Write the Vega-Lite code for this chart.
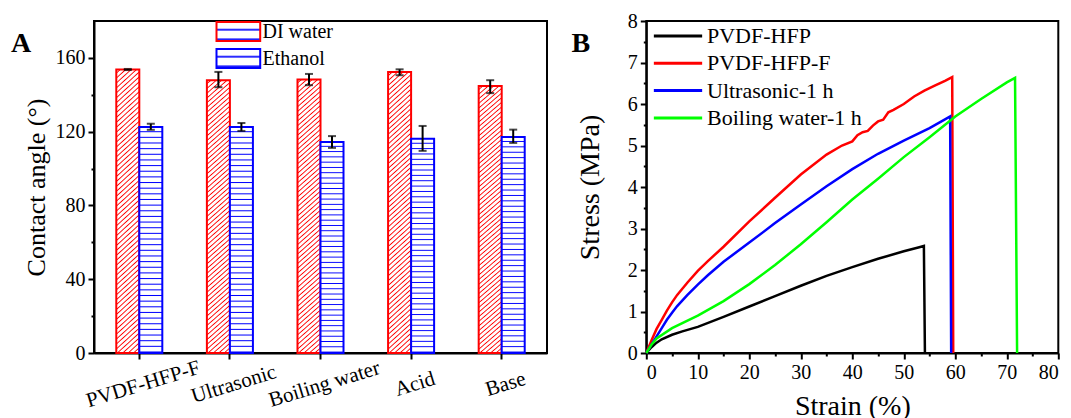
{
  "$schema": "https://vega.github.io/schema/vega-lite/v6.json",
  "padding": {"left": 10, "top": 10, "right": 2, "bottom": 0},
  "background": "white",
  "spacing": 22.3,
  "resolve": {"legend": {"color": "independent", "stroke": "independent"}},
  "config": {
    "font": "Liberation Serif",
    "view": {"stroke": "black", "strokeWidth": 2},
    "axis": {"domainColor": "black", "domainWidth": 2, "tickColor": "black", "tickWidth": 2, "labelColor": "black", "titleColor": "black", "labelFont": "Liberation Serif", "titleFont": "Liberation Serif", "labelFontSize": 20, "titleFontSize": 28, "titleFontWeight": "normal", "grid": false, "labelOverlap": false, "labelBound": false},
    "legend": {"labelFont": "Liberation Serif", "labelColor": "black"},
    "title": {"font": "Liberation Serif", "color": "black"}
  },
  "hconcat": [
    {
      "width": 453,
      "height": 332,
      "title": {"text": "A", "orient": "top", "anchor": "start", "frame": "bounds", "offset": 0, "dx": -12, "dy": 59, "baseline": "alphabetic", "fontSize": 28, "fontWeight": "bold"},
      "data": {"values": [
        {"sample": "PVDF-HFP-F", "solvent": "DI water", "angle": 153.7, "lo": 153.4, "hi": 154.0},
        {"sample": "PVDF-HFP-F", "solvent": "Ethanol", "angle": 122.5, "lo": 121.0, "hi": 124.3},
        {"sample": "Ultrasonic", "solvent": "DI water", "angle": 147.9, "lo": 144.1, "hi": 152.4},
        {"sample": "Ultrasonic", "solvent": "Ethanol", "angle": 122.5, "lo": 120.4, "hi": 124.7},
        {"sample": "Boiling water", "solvent": "DI water", "angle": 148.3, "lo": 145.2, "hi": 151.3},
        {"sample": "Boiling water", "solvent": "Ethanol", "angle": 114.4, "lo": 111.2, "hi": 117.6},
        {"sample": "Acid", "solvent": "DI water", "angle": 152.3, "lo": 150.6, "hi": 153.8},
        {"sample": "Acid", "solvent": "Ethanol", "angle": 116.1, "lo": 109.6, "hi": 123.1},
        {"sample": "Base", "solvent": "DI water", "angle": 144.7, "lo": 140.9, "hi": 147.9},
        {"sample": "Base", "solvent": "Ethanol", "angle": 117.1, "lo": 113.9, "hi": 121.1}
      ]},
      "encoding": {
        "x": {"field": "sample", "type": "nominal", "sort": null, "scale": {"paddingInner": 0.492, "paddingOuter": 0.246}, "axis": {"title": null, "labelAngle": -17, "labelAlign": "center", "labelBaseline": "middle", "labelPadding": 25, "labelOffset": 4, "labelFontSize": 21, "tickSize": 6}},
        "xOffset": {"field": "solvent", "type": "nominal", "sort": ["DI water", "Ethanol"], "scale": {"paddingInner": 0, "paddingOuter": 0}}
      },
      "layer": [
        {
          "mark": {"type": "bar", "strokeWidth": 2},
          "encoding": {
            "y": {"field": "angle", "type": "quantitative", "title": "Contact angle (°)", "scale": {"domain": [0, 180], "nice": false}, "axis": {"values": [0, 20, 40, 60, 80, 100, 120, 140, 160], "labelExpr": "datum.value % 40 === 0 ? datum.label : ''", "tickSize": {"condition": {"test": "datum.value % 40 === 0", "value": 6}, "value": 3}, "titleFontSize": 26, "titlePadding": 6, "labelPadding": 3}},
            "stroke": {"field": "solvent", "type": "nominal", "scale": {"domain": ["DI water", "Ethanol"], "range": ["#ff0000", "#0000ff"]}, "legend": {"title": null, "orient": "none", "legendX": 133.85, "legendY": 0, "padding": 0, "symbolType": "M-2.3,-1H2.3V1H-2.3Z", "symbolSize": 361, "symbolStrokeWidth": 2, "labelFontSize": 20, "labelFont": "Liberation Serif", "labelOffset": 13.65, "rowPadding": 0,
              "encode": {"symbols": {"fill": {"condition": {"test": "datum.value === 'DI water' || datum.solvent === 'DI water'", "value": {"gradient": "linear", "x1": 0, "y1": 0, "x2": 1.2, "y2": 0.52, "stops": [
                {"offset": 0, "color": "#fff"}, {"offset": 0.035, "color": "#fff"}, {"offset": 0.0525, "color": "#f00"},
                {"offset": 0.07, "color": "#fff"}, {"offset": 0.105, "color": "#fff"}, {"offset": 0.1225, "color": "#f00"},
                {"offset": 0.14, "color": "#fff"}, {"offset": 0.175, "color": "#fff"}, {"offset": 0.1925, "color": "#f00"},
                {"offset": 0.21, "color": "#fff"}, {"offset": 0.245, "color": "#fff"}, {"offset": 0.2625, "color": "#f00"},
                {"offset": 0.28, "color": "#fff"}, {"offset": 0.315, "color": "#fff"}, {"offset": 0.3325, "color": "#f00"},
                {"offset": 0.35, "color": "#fff"}, {"offset": 0.385, "color": "#fff"}, {"offset": 0.4025, "color": "#f00"},
                {"offset": 0.42, "color": "#fff"}, {"offset": 0.455, "color": "#fff"}, {"offset": 0.4725, "color": "#f00"},
                {"offset": 0.49, "color": "#fff"}, {"offset": 0.525, "color": "#fff"}, {"offset": 0.5425, "color": "#f00"},
                {"offset": 0.56, "color": "#fff"}, {"offset": 0.595, "color": "#fff"}, {"offset": 0.6125, "color": "#f00"},
                {"offset": 0.63, "color": "#fff"}, {"offset": 0.665, "color": "#fff"}, {"offset": 0.6825, "color": "#f00"},
                {"offset": 0.7, "color": "#fff"}, {"offset": 0.735, "color": "#fff"}, {"offset": 0.7525, "color": "#f00"},
                {"offset": 0.77, "color": "#fff"}, {"offset": 0.805, "color": "#fff"}, {"offset": 0.8225, "color": "#f00"},
                {"offset": 0.84, "color": "#fff"}, {"offset": 0.875, "color": "#fff"}, {"offset": 0.8925, "color": "#f00"},
                {"offset": 0.91, "color": "#fff"}, {"offset": 0.945, "color": "#fff"}, {"offset": 0.9625, "color": "#f00"},
                {"offset": 0.98, "color": "#fff"}, {"offset": 1, "color": "#fff"}]}},
                "value": {"gradient": "linear", "x1": 0, "y1": 0, "x2": 0, "y2": 1, "stops": [
                {"offset": 0, "color": "#fff"}, {"offset": 0.13, "color": "#fff"}, {"offset": 0.165, "color": "#00f"},
                {"offset": 0.2, "color": "#fff"}, {"offset": 0.33, "color": "#fff"}, {"offset": 0.365, "color": "#00f"},
                {"offset": 0.4, "color": "#fff"}, {"offset": 0.53, "color": "#fff"}, {"offset": 0.565, "color": "#00f"},
                {"offset": 0.6, "color": "#fff"}, {"offset": 0.73, "color": "#fff"}, {"offset": 0.765, "color": "#00f"},
                {"offset": 0.8, "color": "#fff"}, {"offset": 0.93, "color": "#fff"}, {"offset": 0.965, "color": "#00f"},
                {"offset": 1, "color": "#fff"}]}}}}}},
            "fill": {"condition": {"test": "datum.solvent === 'DI water' || datum.value === 'DI water'", "value": {"gradient": "linear", "x1": 0, "y1": 0, "x2": 0.08, "y2": 1.08, "stops": [
              {"offset": 0, "color": "#fff"}, {"offset": 0.008, "color": "#fff"}, {"offset": 0.012, "color": "#f00"},
              {"offset": 0.016, "color": "#fff"}, {"offset": 0.024, "color": "#fff"}, {"offset": 0.028, "color": "#f00"},
              {"offset": 0.032, "color": "#fff"}, {"offset": 0.04, "color": "#fff"}, {"offset": 0.044, "color": "#f00"},
              {"offset": 0.048, "color": "#fff"}, {"offset": 0.056, "color": "#fff"}, {"offset": 0.06, "color": "#f00"},
              {"offset": 0.064, "color": "#fff"}, {"offset": 0.072, "color": "#fff"}, {"offset": 0.076, "color": "#f00"},
              {"offset": 0.08, "color": "#fff"}, {"offset": 0.088, "color": "#fff"}, {"offset": 0.092, "color": "#f00"},
              {"offset": 0.096, "color": "#fff"}, {"offset": 0.104, "color": "#fff"}, {"offset": 0.108, "color": "#f00"},
              {"offset": 0.112, "color": "#fff"}, {"offset": 0.12, "color": "#fff"}, {"offset": 0.124, "color": "#f00"},
              {"offset": 0.128, "color": "#fff"}, {"offset": 0.136, "color": "#fff"}, {"offset": 0.14, "color": "#f00"},
              {"offset": 0.144, "color": "#fff"}, {"offset": 0.152, "color": "#fff"}, {"offset": 0.156, "color": "#f00"},
              {"offset": 0.16, "color": "#fff"}, {"offset": 0.168, "color": "#fff"}, {"offset": 0.172, "color": "#f00"},
              {"offset": 0.176, "color": "#fff"}, {"offset": 0.184, "color": "#fff"}, {"offset": 0.188, "color": "#f00"},
              {"offset": 0.192, "color": "#fff"}, {"offset": 0.2, "color": "#fff"}, {"offset": 0.204, "color": "#f00"},
              {"offset": 0.208, "color": "#fff"}, {"offset": 0.216, "color": "#fff"}, {"offset": 0.22, "color": "#f00"},
              {"offset": 0.224, "color": "#fff"}, {"offset": 0.232, "color": "#fff"}, {"offset": 0.236, "color": "#f00"},
              {"offset": 0.24, "color": "#fff"}, {"offset": 0.248, "color": "#fff"}, {"offset": 0.252, "color": "#f00"},
              {"offset": 0.256, "color": "#fff"}, {"offset": 0.264, "color": "#fff"}, {"offset": 0.268, "color": "#f00"},
              {"offset": 0.272, "color": "#fff"}, {"offset": 0.28, "color": "#fff"}, {"offset": 0.284, "color": "#f00"},
              {"offset": 0.288, "color": "#fff"}, {"offset": 0.296, "color": "#fff"}, {"offset": 0.3, "color": "#f00"},
              {"offset": 0.304, "color": "#fff"}, {"offset": 0.312, "color": "#fff"}, {"offset": 0.316, "color": "#f00"},
              {"offset": 0.32, "color": "#fff"}, {"offset": 0.328, "color": "#fff"}, {"offset": 0.332, "color": "#f00"},
              {"offset": 0.336, "color": "#fff"}, {"offset": 0.344, "color": "#fff"}, {"offset": 0.348, "color": "#f00"},
              {"offset": 0.352, "color": "#fff"}, {"offset": 0.36, "color": "#fff"}, {"offset": 0.364, "color": "#f00"},
              {"offset": 0.368, "color": "#fff"}, {"offset": 0.376, "color": "#fff"}, {"offset": 0.38, "color": "#f00"},
              {"offset": 0.384, "color": "#fff"}, {"offset": 0.392, "color": "#fff"}, {"offset": 0.396, "color": "#f00"},
              {"offset": 0.4, "color": "#fff"}, {"offset": 0.408, "color": "#fff"}, {"offset": 0.412, "color": "#f00"},
              {"offset": 0.416, "color": "#fff"}, {"offset": 0.424, "color": "#fff"}, {"offset": 0.428, "color": "#f00"},
              {"offset": 0.432, "color": "#fff"}, {"offset": 0.44, "color": "#fff"}, {"offset": 0.444, "color": "#f00"},
              {"offset": 0.448, "color": "#fff"}, {"offset": 0.456, "color": "#fff"}, {"offset": 0.46, "color": "#f00"},
              {"offset": 0.464, "color": "#fff"}, {"offset": 0.472, "color": "#fff"}, {"offset": 0.476, "color": "#f00"},
              {"offset": 0.48, "color": "#fff"}, {"offset": 0.488, "color": "#fff"}, {"offset": 0.492, "color": "#f00"},
              {"offset": 0.496, "color": "#fff"}, {"offset": 0.504, "color": "#fff"}, {"offset": 0.508, "color": "#f00"},
              {"offset": 0.512, "color": "#fff"}, {"offset": 0.52, "color": "#fff"}, {"offset": 0.524, "color": "#f00"},
              {"offset": 0.528, "color": "#fff"}, {"offset": 0.536, "color": "#fff"}, {"offset": 0.54, "color": "#f00"},
              {"offset": 0.544, "color": "#fff"}, {"offset": 0.552, "color": "#fff"}, {"offset": 0.556, "color": "#f00"},
              {"offset": 0.56, "color": "#fff"}, {"offset": 0.568, "color": "#fff"}, {"offset": 0.572, "color": "#f00"},
              {"offset": 0.576, "color": "#fff"}, {"offset": 0.584, "color": "#fff"}, {"offset": 0.588, "color": "#f00"},
              {"offset": 0.592, "color": "#fff"}, {"offset": 0.6, "color": "#fff"}, {"offset": 0.604, "color": "#f00"},
              {"offset": 0.608, "color": "#fff"}, {"offset": 0.616, "color": "#fff"}, {"offset": 0.62, "color": "#f00"},
              {"offset": 0.624, "color": "#fff"}, {"offset": 0.632, "color": "#fff"}, {"offset": 0.636, "color": "#f00"},
              {"offset": 0.64, "color": "#fff"}, {"offset": 0.648, "color": "#fff"}, {"offset": 0.652, "color": "#f00"},
              {"offset": 0.656, "color": "#fff"}, {"offset": 0.664, "color": "#fff"}, {"offset": 0.668, "color": "#f00"},
              {"offset": 0.672, "color": "#fff"}, {"offset": 0.68, "color": "#fff"}, {"offset": 0.684, "color": "#f00"},
              {"offset": 0.688, "color": "#fff"}, {"offset": 0.696, "color": "#fff"}, {"offset": 0.7, "color": "#f00"},
              {"offset": 0.704, "color": "#fff"}, {"offset": 0.712, "color": "#fff"}, {"offset": 0.716, "color": "#f00"},
              {"offset": 0.72, "color": "#fff"}, {"offset": 0.728, "color": "#fff"}, {"offset": 0.732, "color": "#f00"},
              {"offset": 0.736, "color": "#fff"}, {"offset": 0.744, "color": "#fff"}, {"offset": 0.748, "color": "#f00"},
              {"offset": 0.752, "color": "#fff"}, {"offset": 0.76, "color": "#fff"}, {"offset": 0.764, "color": "#f00"},
              {"offset": 0.768, "color": "#fff"}, {"offset": 0.776, "color": "#fff"}, {"offset": 0.78, "color": "#f00"},
              {"offset": 0.784, "color": "#fff"}, {"offset": 0.792, "color": "#fff"}, {"offset": 0.796, "color": "#f00"},
              {"offset": 0.8, "color": "#fff"}, {"offset": 0.808, "color": "#fff"}, {"offset": 0.812, "color": "#f00"},
              {"offset": 0.816, "color": "#fff"}, {"offset": 0.824, "color": "#fff"}, {"offset": 0.828, "color": "#f00"},
              {"offset": 0.832, "color": "#fff"}, {"offset": 0.84, "color": "#fff"}, {"offset": 0.844, "color": "#f00"},
              {"offset": 0.848, "color": "#fff"}, {"offset": 0.856, "color": "#fff"}, {"offset": 0.86, "color": "#f00"},
              {"offset": 0.864, "color": "#fff"}, {"offset": 0.872, "color": "#fff"}, {"offset": 0.876, "color": "#f00"},
              {"offset": 0.88, "color": "#fff"}, {"offset": 0.888, "color": "#fff"}, {"offset": 0.892, "color": "#f00"},
              {"offset": 0.896, "color": "#fff"}, {"offset": 0.904, "color": "#fff"}, {"offset": 0.908, "color": "#f00"},
              {"offset": 0.912, "color": "#fff"}, {"offset": 0.92, "color": "#fff"}, {"offset": 0.924, "color": "#f00"},
              {"offset": 0.928, "color": "#fff"}, {"offset": 0.936, "color": "#fff"}, {"offset": 0.94, "color": "#f00"},
              {"offset": 0.944, "color": "#fff"}, {"offset": 0.952, "color": "#fff"}, {"offset": 0.956, "color": "#f00"},
              {"offset": 0.96, "color": "#fff"}, {"offset": 0.968, "color": "#fff"}, {"offset": 0.972, "color": "#f00"},
              {"offset": 0.976, "color": "#fff"}, {"offset": 0.984, "color": "#fff"}, {"offset": 0.988, "color": "#f00"},
              {"offset": 0.992, "color": "#fff"}, {"offset": 1, "color": "#fff"}]}},
              "value": {"gradient": "linear", "x1": 0, "y1": 0, "x2": 0, "y2": 1, "stops": [
              {"offset": 0, "color": "#fff"}, {"offset": 0.016, "color": "#fff"}, {"offset": 0.0205, "color": "#00f"},
              {"offset": 0.025, "color": "#fff"}, {"offset": 0.041, "color": "#fff"}, {"offset": 0.0455, "color": "#00f"},
              {"offset": 0.05, "color": "#fff"}, {"offset": 0.066, "color": "#fff"}, {"offset": 0.0705, "color": "#00f"},
              {"offset": 0.075, "color": "#fff"}, {"offset": 0.091, "color": "#fff"}, {"offset": 0.0955, "color": "#00f"},
              {"offset": 0.1, "color": "#fff"}, {"offset": 0.116, "color": "#fff"}, {"offset": 0.1205, "color": "#00f"},
              {"offset": 0.125, "color": "#fff"}, {"offset": 0.141, "color": "#fff"}, {"offset": 0.1455, "color": "#00f"},
              {"offset": 0.15, "color": "#fff"}, {"offset": 0.166, "color": "#fff"}, {"offset": 0.1705, "color": "#00f"},
              {"offset": 0.175, "color": "#fff"}, {"offset": 0.191, "color": "#fff"}, {"offset": 0.1955, "color": "#00f"},
              {"offset": 0.2, "color": "#fff"}, {"offset": 0.216, "color": "#fff"}, {"offset": 0.2205, "color": "#00f"},
              {"offset": 0.225, "color": "#fff"}, {"offset": 0.241, "color": "#fff"}, {"offset": 0.2455, "color": "#00f"},
              {"offset": 0.25, "color": "#fff"}, {"offset": 0.266, "color": "#fff"}, {"offset": 0.2705, "color": "#00f"},
              {"offset": 0.275, "color": "#fff"}, {"offset": 0.291, "color": "#fff"}, {"offset": 0.2955, "color": "#00f"},
              {"offset": 0.3, "color": "#fff"}, {"offset": 0.316, "color": "#fff"}, {"offset": 0.3205, "color": "#00f"},
              {"offset": 0.325, "color": "#fff"}, {"offset": 0.341, "color": "#fff"}, {"offset": 0.3455, "color": "#00f"},
              {"offset": 0.35, "color": "#fff"}, {"offset": 0.366, "color": "#fff"}, {"offset": 0.3705, "color": "#00f"},
              {"offset": 0.375, "color": "#fff"}, {"offset": 0.391, "color": "#fff"}, {"offset": 0.3955, "color": "#00f"},
              {"offset": 0.4, "color": "#fff"}, {"offset": 0.416, "color": "#fff"}, {"offset": 0.4205, "color": "#00f"},
              {"offset": 0.425, "color": "#fff"}, {"offset": 0.441, "color": "#fff"}, {"offset": 0.4455, "color": "#00f"},
              {"offset": 0.45, "color": "#fff"}, {"offset": 0.466, "color": "#fff"}, {"offset": 0.4705, "color": "#00f"},
              {"offset": 0.475, "color": "#fff"}, {"offset": 0.491, "color": "#fff"}, {"offset": 0.4955, "color": "#00f"},
              {"offset": 0.5, "color": "#fff"}, {"offset": 0.516, "color": "#fff"}, {"offset": 0.5205, "color": "#00f"},
              {"offset": 0.525, "color": "#fff"}, {"offset": 0.541, "color": "#fff"}, {"offset": 0.5455, "color": "#00f"},
              {"offset": 0.55, "color": "#fff"}, {"offset": 0.566, "color": "#fff"}, {"offset": 0.5705, "color": "#00f"},
              {"offset": 0.575, "color": "#fff"}, {"offset": 0.591, "color": "#fff"}, {"offset": 0.5955, "color": "#00f"},
              {"offset": 0.6, "color": "#fff"}, {"offset": 0.616, "color": "#fff"}, {"offset": 0.6205, "color": "#00f"},
              {"offset": 0.625, "color": "#fff"}, {"offset": 0.641, "color": "#fff"}, {"offset": 0.6455, "color": "#00f"},
              {"offset": 0.65, "color": "#fff"}, {"offset": 0.666, "color": "#fff"}, {"offset": 0.6705, "color": "#00f"},
              {"offset": 0.675, "color": "#fff"}, {"offset": 0.691, "color": "#fff"}, {"offset": 0.6955, "color": "#00f"},
              {"offset": 0.7, "color": "#fff"}, {"offset": 0.716, "color": "#fff"}, {"offset": 0.7205, "color": "#00f"},
              {"offset": 0.725, "color": "#fff"}, {"offset": 0.741, "color": "#fff"}, {"offset": 0.7455, "color": "#00f"},
              {"offset": 0.75, "color": "#fff"}, {"offset": 0.766, "color": "#fff"}, {"offset": 0.7705, "color": "#00f"},
              {"offset": 0.775, "color": "#fff"}, {"offset": 0.791, "color": "#fff"}, {"offset": 0.7955, "color": "#00f"},
              {"offset": 0.8, "color": "#fff"}, {"offset": 0.816, "color": "#fff"}, {"offset": 0.8205, "color": "#00f"},
              {"offset": 0.825, "color": "#fff"}, {"offset": 0.841, "color": "#fff"}, {"offset": 0.8455, "color": "#00f"},
              {"offset": 0.85, "color": "#fff"}, {"offset": 0.866, "color": "#fff"}, {"offset": 0.8705, "color": "#00f"},
              {"offset": 0.875, "color": "#fff"}, {"offset": 0.891, "color": "#fff"}, {"offset": 0.8955, "color": "#00f"},
              {"offset": 0.9, "color": "#fff"}, {"offset": 0.916, "color": "#fff"}, {"offset": 0.9205, "color": "#00f"},
              {"offset": 0.925, "color": "#fff"}, {"offset": 0.941, "color": "#fff"}, {"offset": 0.9455, "color": "#00f"},
              {"offset": 0.95, "color": "#fff"}, {"offset": 0.966, "color": "#fff"}, {"offset": 0.9705, "color": "#00f"},
              {"offset": 0.975, "color": "#fff"}, {"offset": 0.991, "color": "#fff"}, {"offset": 0.9955, "color": "#00f"},
              {"offset": 1, "color": "#fff"}]}}
          }
        },
        {
          "mark": {"type": "rule", "color": "black", "strokeWidth": 2},
          "encoding": {"y": {"field": "lo", "type": "quantitative", "title": "Contact angle (°)"}, "y2": {"field": "hi"}}
        },
        {
          "mark": {"type": "tick", "color": "black", "thickness": 2, "size": 8},
          "encoding": {"y": {"field": "lo", "type": "quantitative", "title": "Contact angle (°)"}}
        },
        {
          "mark": {"type": "tick", "color": "black", "thickness": 2, "size": 8},
          "encoding": {"y": {"field": "hi", "type": "quantitative", "title": "Contact angle (°)"}}
        }
      ]
    },
    {
      "width": 412,
      "height": 332,
      "title": {"text": "B", "orient": "top", "anchor": "start", "frame": "bounds", "offset": 0, "dx": -4.8, "dy": 69, "baseline": "alphabetic", "fontSize": 28, "fontWeight": "bold"},
      "data": {"values": [
        {"series": "PVDF-HFP", "strain": 0, "stress": 0},
        {"series": "PVDF-HFP", "strain": 1, "stress": 0.14},
        {"series": "PVDF-HFP", "strain": 2, "stress": 0.25},
        {"series": "PVDF-HFP", "strain": 3, "stress": 0.33},
        {"series": "PVDF-HFP", "strain": 5, "stress": 0.44},
        {"series": "PVDF-HFP", "strain": 7, "stress": 0.52},
        {"series": "PVDF-HFP", "strain": 10, "stress": 0.63},
        {"series": "PVDF-HFP", "strain": 15, "stress": 0.87},
        {"series": "PVDF-HFP", "strain": 20, "stress": 1.12},
        {"series": "PVDF-HFP", "strain": 25, "stress": 1.37},
        {"series": "PVDF-HFP", "strain": 30, "stress": 1.62},
        {"series": "PVDF-HFP", "strain": 35, "stress": 1.86},
        {"series": "PVDF-HFP", "strain": 40, "stress": 2.07},
        {"series": "PVDF-HFP", "strain": 45, "stress": 2.27},
        {"series": "PVDF-HFP", "strain": 50, "stress": 2.45},
        {"series": "PVDF-HFP", "strain": 53, "stress": 2.55},
        {"series": "PVDF-HFP", "strain": 53.9, "stress": 2.58},
        {"series": "PVDF-HFP", "strain": 54.1, "stress": 0},
        {"series": "PVDF-HFP-F", "strain": 0, "stress": 0},
        {"series": "PVDF-HFP-F", "strain": 1, "stress": 0.3},
        {"series": "PVDF-HFP-F", "strain": 2, "stress": 0.58},
        {"series": "PVDF-HFP-F", "strain": 3, "stress": 0.8},
        {"series": "PVDF-HFP-F", "strain": 4, "stress": 1.02},
        {"series": "PVDF-HFP-F", "strain": 5, "stress": 1.22},
        {"series": "PVDF-HFP-F", "strain": 6, "stress": 1.4},
        {"series": "PVDF-HFP-F", "strain": 8, "stress": 1.7},
        {"series": "PVDF-HFP-F", "strain": 10, "stress": 1.98},
        {"series": "PVDF-HFP-F", "strain": 12, "stress": 2.22},
        {"series": "PVDF-HFP-F", "strain": 15, "stress": 2.56},
        {"series": "PVDF-HFP-F", "strain": 20, "stress": 3.17},
        {"series": "PVDF-HFP-F", "strain": 25, "stress": 3.74},
        {"series": "PVDF-HFP-F", "strain": 30, "stress": 4.3},
        {"series": "PVDF-HFP-F", "strain": 35, "stress": 4.78},
        {"series": "PVDF-HFP-F", "strain": 38, "stress": 5.0},
        {"series": "PVDF-HFP-F", "strain": 40, "stress": 5.1},
        {"series": "PVDF-HFP-F", "strain": 41, "stress": 5.25},
        {"series": "PVDF-HFP-F", "strain": 42, "stress": 5.32},
        {"series": "PVDF-HFP-F", "strain": 43, "stress": 5.35},
        {"series": "PVDF-HFP-F", "strain": 44, "stress": 5.48},
        {"series": "PVDF-HFP-F", "strain": 45, "stress": 5.58},
        {"series": "PVDF-HFP-F", "strain": 46, "stress": 5.62},
        {"series": "PVDF-HFP-F", "strain": 47, "stress": 5.8},
        {"series": "PVDF-HFP-F", "strain": 48, "stress": 5.86},
        {"series": "PVDF-HFP-F", "strain": 50, "stress": 6.0},
        {"series": "PVDF-HFP-F", "strain": 52, "stress": 6.18},
        {"series": "PVDF-HFP-F", "strain": 54, "stress": 6.32},
        {"series": "PVDF-HFP-F", "strain": 56, "stress": 6.44},
        {"series": "PVDF-HFP-F", "strain": 58, "stress": 6.56},
        {"series": "PVDF-HFP-F", "strain": 59.4, "stress": 6.65},
        {"series": "PVDF-HFP-F", "strain": 59.6, "stress": 0},
        {"series": "Ultrasonic-1 h", "strain": 0, "stress": 0},
        {"series": "Ultrasonic-1 h", "strain": 1, "stress": 0.2},
        {"series": "Ultrasonic-1 h", "strain": 2, "stress": 0.4},
        {"series": "Ultrasonic-1 h", "strain": 3, "stress": 0.6},
        {"series": "Ultrasonic-1 h", "strain": 4, "stress": 0.8},
        {"series": "Ultrasonic-1 h", "strain": 5, "stress": 0.97},
        {"series": "Ultrasonic-1 h", "strain": 6, "stress": 1.13},
        {"series": "Ultrasonic-1 h", "strain": 8, "stress": 1.4},
        {"series": "Ultrasonic-1 h", "strain": 10, "stress": 1.65},
        {"series": "Ultrasonic-1 h", "strain": 12, "stress": 1.88},
        {"series": "Ultrasonic-1 h", "strain": 15, "stress": 2.2},
        {"series": "Ultrasonic-1 h", "strain": 20, "stress": 2.66},
        {"series": "Ultrasonic-1 h", "strain": 25, "stress": 3.13},
        {"series": "Ultrasonic-1 h", "strain": 30, "stress": 3.58},
        {"series": "Ultrasonic-1 h", "strain": 35, "stress": 4.02},
        {"series": "Ultrasonic-1 h", "strain": 40, "stress": 4.43},
        {"series": "Ultrasonic-1 h", "strain": 45, "stress": 4.8},
        {"series": "Ultrasonic-1 h", "strain": 50, "stress": 5.12},
        {"series": "Ultrasonic-1 h", "strain": 55, "stress": 5.42},
        {"series": "Ultrasonic-1 h", "strain": 58, "stress": 5.63},
        {"series": "Ultrasonic-1 h", "strain": 59, "stress": 5.7},
        {"series": "Ultrasonic-1 h", "strain": 59.2, "stress": 0},
        {"series": "Boiling water-1 h", "strain": 0, "stress": 0},
        {"series": "Boiling water-1 h", "strain": 1, "stress": 0.2},
        {"series": "Boiling water-1 h", "strain": 2, "stress": 0.35},
        {"series": "Boiling water-1 h", "strain": 5, "stress": 0.6},
        {"series": "Boiling water-1 h", "strain": 10, "stress": 0.9},
        {"series": "Boiling water-1 h", "strain": 15, "stress": 1.25},
        {"series": "Boiling water-1 h", "strain": 20, "stress": 1.66},
        {"series": "Boiling water-1 h", "strain": 25, "stress": 2.12},
        {"series": "Boiling water-1 h", "strain": 30, "stress": 2.62},
        {"series": "Boiling water-1 h", "strain": 35, "stress": 3.15},
        {"series": "Boiling water-1 h", "strain": 40, "stress": 3.7},
        {"series": "Boiling water-1 h", "strain": 45, "stress": 4.2},
        {"series": "Boiling water-1 h", "strain": 50, "stress": 4.72},
        {"series": "Boiling water-1 h", "strain": 55, "stress": 5.2},
        {"series": "Boiling water-1 h", "strain": 60, "stress": 5.7},
        {"series": "Boiling water-1 h", "strain": 65, "stress": 6.12},
        {"series": "Boiling water-1 h", "strain": 70, "stress": 6.52},
        {"series": "Boiling water-1 h", "strain": 71.6, "stress": 6.63},
        {"series": "Boiling water-1 h", "strain": 72, "stress": 0}
      ]},
      "mark": {"type": "line", "strokeWidth": 2.5},
      "encoding": {
        "x": {"field": "strain", "type": "quantitative", "scale": {"domain": [0, 80], "nice": false}, "axis": {"title": "Strain (%)", "values": [0, 5, 10, 15, 20, 25, 30, 35, 40, 45, 50, 55, 60, 65, 70, 75, 80], "labelExpr": "datum.value % 10 === 0 ? format(datum.value, 'd') : ''", "tickSize": {"condition": {"test": "datum.value % 10 === 0", "value": 6}, "value": 3}, "labelPadding": 3, "titlePadding": 10}},
        "y": {"field": "stress", "type": "quantitative", "scale": {"domain": [0, 8], "nice": false}, "axis": {"title": "Stress (MPa)", "values": [0, 0.5, 1, 1.5, 2, 2.5, 3, 3.5, 4, 4.5, 5, 5.5, 6, 6.5, 7, 7.5, 8], "labelExpr": "datum.value % 1 === 0 ? format(datum.value, 'd') : ''", "tickSize": {"condition": {"test": "datum.value % 1 === 0", "value": 6}, "value": 3}, "labelPadding": 3, "titlePadding": 23}},
        "color": {"field": "series", "type": "nominal", "scale": {"domain": ["PVDF-HFP", "PVDF-HFP-F", "Ultrasonic-1 h", "Boiling water-1 h"], "range": ["#000000", "#ff0000", "#0000ff", "#00ff00"]}, "legend": {"title": null, "orient": "none", "legendX": 19.7, "legendY": 3, "padding": 0, "symbolType": "M-2.3,0H2.3", "symbolSize": 441, "symbolStrokeWidth": 3, "labelFontSize": 22, "labelOffset": 17, "rowPadding": 4.3}}
      }
    }
  ]
}
